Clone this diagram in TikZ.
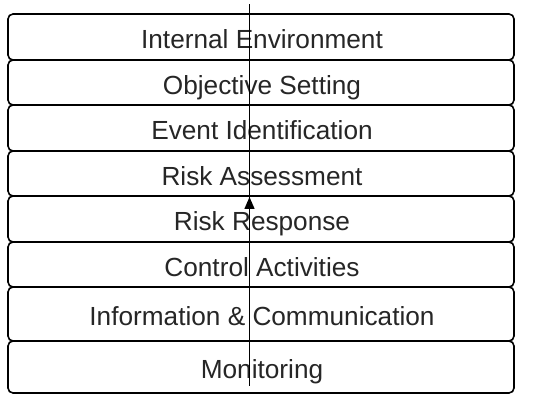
\documentclass[tikz,border=0pt]{standalone}
\usepackage{fontspec}
\setmainfont{Liberation Sans}
\usetikzlibrary{arrows.meta}
\begin{document}
\begin{tikzpicture}[x=1pt,y=-1pt,
  layer/.style={draw=black,line width=1.6pt,rounded corners=5pt},
  lbl/.style={anchor=base,inner sep=0pt,font=\fontsize{26.2}{30}\selectfont,text=black!85},
  flow/.style={line width=1.4pt,draw=black}]
\useasboundingbox (0,0) rectangle (552,403);
\fill[white] (0,0) rectangle (552,403);
\def\xl{8}\def\xr{514}
\foreach \ya/\yb/\t/\n in {14/60/Internal Environment/b1,
  60/105/Objective Setting/b2,
  105/151/Event Identification/b3,
  151/196/Risk Assessment/b4,
  196/242/Risk Response/b5,
  242/287/Control Activities/b6,
  287/341/Information \& Communication/b7,
  341/393/Monitoring/b8}{
  \draw[layer] (\xl,\ya) rectangle (\xr,\yb);
  \node[lbl] (\n) at (262,{(\ya+\yb)/2+12}) {\t};
}
\coordinate (top) at (249.5,4);
\coordinate (bot) at (249.5,386);
\coordinate (tip) at (249.5,197);
\draw[flow] (bot) -- (top);
\draw[flow,-{Triangle[length=12pt,width=10pt]}] (bot) -- (tip);
\end{tikzpicture}
\end{document}
